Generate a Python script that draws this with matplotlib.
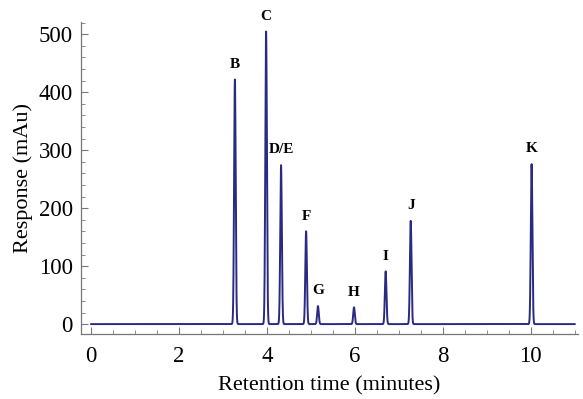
import numpy as np
import matplotlib.pyplot as plt

# peak data
peak_names = ["B", "C", "D/E", "F", "G", "H", "I", "J", "K"]
peak_times = [3.27, 3.98, 4.32, 4.89, 5.16, 5.98, 6.70, 7.27, 10.02]
peak_heights = [422, 505, 274, 160, 31, 29, 91, 178, 276]
peak_width = 0.018

plt.rcParams['font.family'] = ['Liberation Serif', 'DejaVu Serif']

t = np.linspace(0, 11, 6000)
resp = np.zeros_like(t)
for rt, h in zip(peak_times, peak_heights):
    resp += h * np.exp(-0.5 * ((t - rt) / peak_width) ** 2)

fig = plt.figure(figsize=(5.83, 3.99), dpi=100)
ax = fig.add_axes([0.139, 0.163, 0.852, 0.782])
ax.plot(t, resp, color='#2a2a82', lw=1.4)

for name, rt, h in zip(peak_names, peak_times, peak_heights):
    ax.text(rt, h + 15, name, ha='center', va='bottom', fontsize=11, fontweight='bold')

ax.set_xlim(-0.23, 11.07)
ax.set_ylim(-17, 521)
ax.set_xticks([0, 2, 4, 6, 8, 10])
ax.set_xticks(np.arange(0, 11.01, 0.5), minor=True)
ax.set_yticks([0, 100, 200, 300, 400, 500])
ax.set_yticks(np.arange(0, 521, 20), minor=True)

for s in ['top', 'right']:
    ax.spines[s].set_visible(False)
for s in ['left', 'bottom']:
    ax.spines[s].set_color('#777777')
    ax.spines[s].set_linewidth(0.9)
ax.tick_params(which='major', direction='in', length=5, color='#777777', labelsize=16.5)
ax.tick_params(axis='x', which='major', pad=9)
ax.tick_params(axis='y', which='major', pad=6)
ax.tick_params(which='minor', direction='in', length=3, color='#777777')

ax.set_xlabel("Retention time (minutes)", fontsize=16, labelpad=6)
ax.set_ylabel("Response (mAu)", fontsize=16, labelpad=4)

fig.savefig("out.png", dpi=100)
